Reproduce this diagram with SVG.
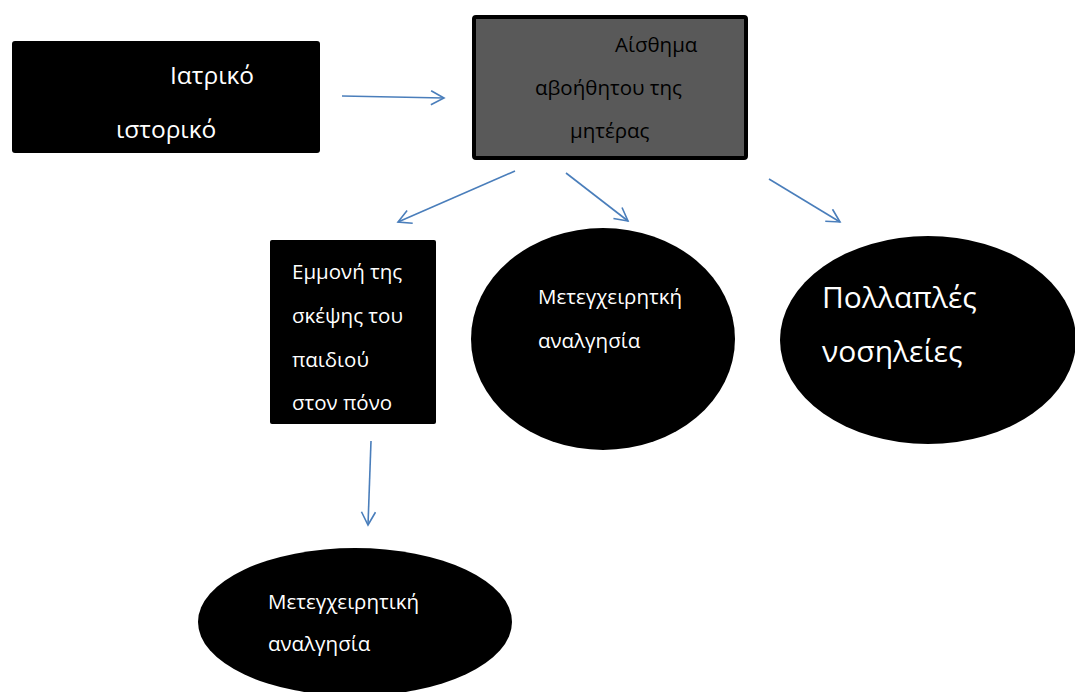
<svg xmlns="http://www.w3.org/2000/svg" width="1075" height="692" viewBox="0 0 1075 692">
<defs>
<style>
.t{font-family:"Open Sans","Noto Sans","Liberation Sans",sans-serif;fill:#fff}
.k{fill:#000}
.d{fill:#000}
.c{stroke:#4a7ebb;stroke-width:1.6;fill:none;marker-end:url(#a)}
</style>
<marker id="a" viewBox="0 0 16 16" refX="14" refY="8" markerWidth="16" markerHeight="16" markerUnits="userSpaceOnUse" orient="auto">
<path d="M1 1 L14 8 L1 15" fill="none" stroke="#4a7ebb" stroke-width="1.6"/>
</marker>
</defs>
<rect width="1075" height="692" fill="#fff"/>
<g id="n1">
<rect x="12" y="41" width="308" height="112" rx="3" class="d"/>
<text class="t" font-size="24.5" x="170" y="84">Ιατρικό</text>
<text class="t" font-size="24.5" x="116" y="138">ιστορικό</text>
</g>
<g id="n2">
<rect x="474" y="17" width="272" height="141" rx="2" fill="#595959" stroke="#000" stroke-width="4"/>
<text class="t k" font-size="20.5" x="615" y="52">Αίσθημα</text>
<text class="t k" font-size="20.5" x="535" y="95">αβοήθητου της</text>
<text class="t k" font-size="20.5" x="570" y="138">μητέρας</text>
</g>
<g id="n3">
<rect x="270" y="240" width="166" height="184" rx="2" class="d"/>
<text class="t" font-size="20.5" x="292" y="279">Εμμονή της</text>
<text class="t" font-size="20.5" x="292" y="323">σκέψης του</text>
<text class="t" font-size="20.5" x="292" y="367">παιδιού</text>
<text class="t" font-size="20.5" x="292" y="410">στον πόνο</text>
</g>
<g id="n4">
<ellipse cx="603" cy="339" rx="132" ry="111" class="d"/>
<text class="t" font-size="20.5" x="538" y="304">Μετεγχειρητκή</text>
<text class="t" font-size="20.5" x="538" y="348">αναλγησία</text>
</g>
<g id="n5">
<ellipse cx="928" cy="340" rx="148" ry="104" class="d"/>
<text class="t" font-size="30" x="822" y="308">Πολλαπλές</text>
<text class="t" font-size="30" x="822" y="362">νοσηλείες</text>
</g>
<g id="n6">
<ellipse cx="355" cy="622" rx="157" ry="74" class="d"/>
<text class="t" font-size="20.5" x="268" y="609">Μετεγχειρητική</text>
<text class="t" font-size="20.5" x="268" y="651">αναλγησία</text>
</g>
<g id="connectors">
<line class="c" x1="342" y1="96" x2="444" y2="98"/>
<line class="c" x1="515" y1="171" x2="398" y2="222"/>
<line class="c" x1="566" y1="173" x2="628" y2="221"/>
<line class="c" x1="769" y1="179" x2="840" y2="222"/>
<line class="c" x1="371" y1="441" x2="368" y2="525"/>
</g>
</svg>
